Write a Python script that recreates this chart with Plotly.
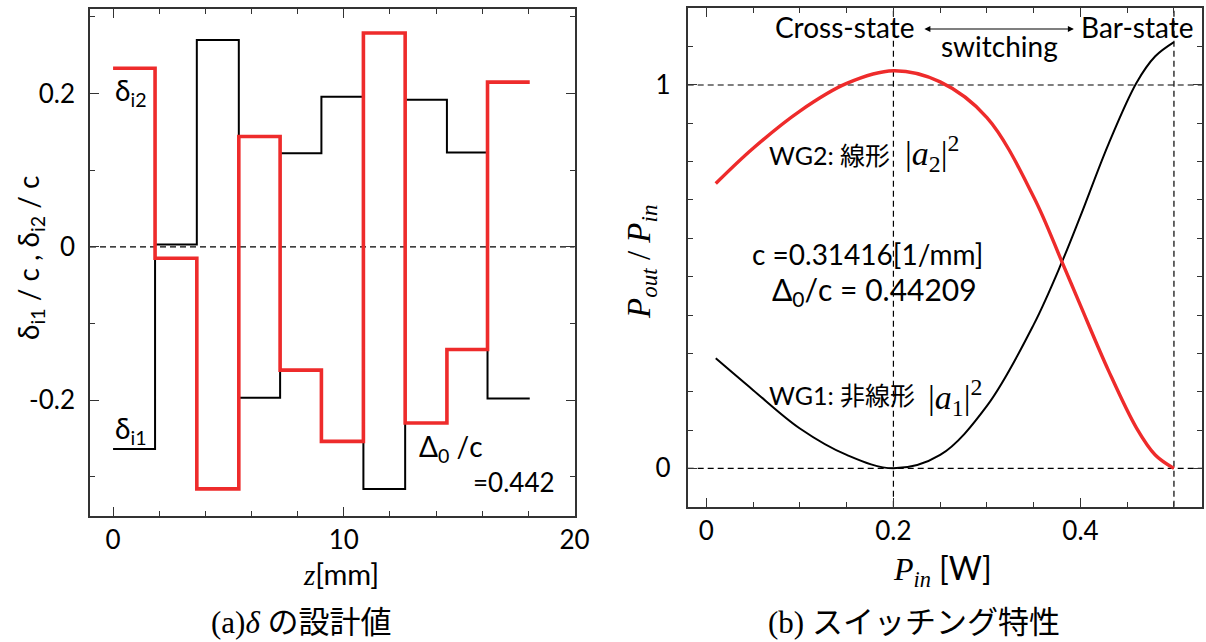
import plotly.graph_objects as go

# ---------------- data ----------------
# (a) design values of delta (step profile)
z_edges = [0.0, 1.82, 3.63, 5.45, 7.24, 9.03, 10.85, 12.66, 14.47, 16.23, 18.06]
delta_i1 = [-0.264, 0.003, 0.270, -0.197, 0.122, 0.196, -0.316, 0.192, 0.123, -0.198]
delta_i2 = [0.233, -0.015, -0.316, 0.144, -0.161, -0.254, 0.279, -0.230, -0.134, 0.215]

# (b) switching characteristic
p_in = [0.01, 0.05, 0.10, 0.15, 0.20, 0.25, 0.30, 0.35, 0.38, 0.40, 0.43, 0.46, 0.48, 0.50]
wg2_linear = [0.743, 0.835, 0.932, 1.004, 1.037, 1.008, 0.915, 0.708, 0.540, 0.425, 0.255, 0.105, 0.035, 0.0]
wg1_nonlinear = [0.287, 0.204, 0.104, 0.035, 0.0, 0.035, 0.163, 0.375, 0.537, 0.658, 0.846, 1.006, 1.075, 1.112]

xticks_a = [0, 10, 20]
yticks_a = [-0.2, 0, 0.2]
yticklabels_a = ["-0.2", "0", "0.2"]
xticks_b = [0, 0.2, 0.4]
xticklabels_b = ["0", "0.2", "0.4"]
yticks_b = [0, 1]
yticklabels_b = ["0", "1"]

# ---------------- style ----------------
W, H = 1206, 642
SANS = "Lato, 'Noto Sans CJK JP', sans-serif"
SERIF = "'Liberation Serif', 'Noto Sans CJK JP', serif"
RED = "#ee2b2b"
AX = "#333333"


def px(x):
    return x / W


def py(y):
    return 1 - y / H


fig = go.Figure()

# step profiles (hv steps)
fig.add_trace(go.Scatter(x=z_edges, y=delta_i1 + [delta_i1[-1]], mode="lines",
                         line=dict(shape="hv", color="black", width=2),
                         xaxis="x", yaxis="y", showlegend=False))
fig.add_trace(go.Scatter(x=z_edges, y=delta_i2 + [delta_i2[-1]], mode="lines",
                         line=dict(shape="hv", color=RED, width=3.6),
                         xaxis="x", yaxis="y", showlegend=False))

# switching curves
fig.add_trace(go.Scatter(x=p_in, y=wg1_nonlinear, mode="lines",
                         line=dict(shape="spline", smoothing=1.0, color="black", width=2),
                         xaxis="x2", yaxis="y2", showlegend=False))
fig.add_trace(go.Scatter(x=p_in, y=wg2_linear, mode="lines",
                         line=dict(shape="spline", smoothing=1.0, color=RED, width=3.4),
                         xaxis="x2", yaxis="y2", showlegend=False))

common = dict(showline=True, linecolor=AX, linewidth=1.6, mirror="allticks",
              ticks="inside", ticklen=9, tickwidth=1.4, tickcolor=AX,
              showgrid=False, zeroline=False, automargin=False,
              tickfont=dict(family=SANS, size=26, color="black"))


def minor(d):
    return dict(ticks="inside", ticklen=5, tickwidth=1.2, tickcolor=AX, dtick=d, showgrid=False)


fig.update_layout(
    width=W, height=H,
    margin=dict(l=0, r=0, t=0, b=0),
    paper_bgcolor="white", plot_bgcolor="white",
    xaxis=dict(domain=[px(90), px(574.5)], range=[-1, 20], anchor="y",
               tickvals=xticks_a, ticktext=[str(v) for v in xticks_a],
               minor=minor(2), ticklabelstandoff=0, **common),
    yaxis=dict(domain=[py(515.7), py(9.3)], range=[-0.351, 0.31], anchor="x",
               tickvals=yticks_a, ticktext=yticklabels_a,
               minor=minor(0.1), ticklabelstandoff=8, **common),
    xaxis2=dict(domain=[px(687.7), px(1202)], range=[-0.02, 0.53], anchor="y2",
                tickvals=xticks_b, ticktext=xticklabels_b,
                minor=minor(0.05), ticklabelstandoff=0, **common),
    yaxis2=dict(domain=[py(506.7), py(8.3)], range=[-0.1, 1.2], anchor="x2",
                tickvals=yticks_b, ticktext=yticklabels_b,
                minor=minor(0.1), ticklabelstandoff=10, **common),
)

dash = dict(color="black", width=1.2, dash="6px,4px")
shapes = [
    dict(type="line", xref="x domain", yref="y", x0=0, x1=1, y0=0, y1=0, line=dash, layer="below"),
    dict(type="line", xref="x2 domain", yref="y2", x0=0, x1=1, y0=0, y1=0, line=dash, layer="below"),
    dict(type="line", xref="x2 domain", yref="y2", x0=0, x1=1, y0=1, y1=1, line=dash, layer="below"),
    dict(type="line", xref="x2", yref="y2 domain", x0=0.2, x1=0.2, y0=0, y1=1, line=dash, layer="below"),
    dict(type="line", xref="x2", yref="y2 domain", x0=0.5, x1=0.5, y0=0, y1=1, line=dash, layer="below"),
]
fig.update_layout(shapes=shapes)

ann = []


def A(text, x, y, xref="paper", yref="paper", size=26, family=SANS, xanchor="center",
      yanchor="middle", angle=0):
    ann.append(dict(text=text, x=x, y=y, xref=xref, yref=yref, showarrow=False,
                    font=dict(family=family, size=size, color="black"),
                    xanchor=xanchor, yanchor=yanchor, textangle=angle))


# (a) annotations
A("δ<sub>i2</sub>", 0.0, 0.2017, "x", "y", size=28, xanchor="left")
A("δ<sub>i1</sub>", 0.0, -0.239, "x", "y", size=28, xanchor="left")
A("Δ<sub>0</sub> /c", 13.19, -0.262, "x", "y", size=28, xanchor="left")
A("=0.442", 19.26, -0.307, "x", "y", size=26, xanchor="right")

# (b) annotations
A("Cross-state", 0.2239, 1.151, "x2", "y2", size=28, xanchor="right")
A("Bar-state", 0.3983, 1.151, "x2", "y2", size=28, xanchor="left")
A("switching", 0.3137, 1.102, "x2", "y2", size=28)
A("WG2: 線形", 0.0653, 0.817, "x2", "y2", size=25, xanchor="left")
A("|<i>a</i><sub>2</sub>|<sup>2</sup>", 0.210, 0.822, "x2", "y2", size=34, family=SERIF, xanchor="left")
A("c =0.31416[1/mm]", 0.1725, 0.559, "x2", "y2", size=28)
A("Δ<sub>0</sub>/c = 0.44209", 0.18, 0.462, "x2", "y2", size=30)
A("WG1: 非線形", 0.0653, 0.191, "x2", "y2", size=25, xanchor="left")
A("|<i>a</i><sub>1</sub>|<sup>2</sup>", 0.235, 0.185, "x2", "y2", size=34, family=SERIF, xanchor="left")

# arrow between the states
ann.append(dict(x=0.393, y=1.146, xref="x2", yref="y2", ax=-151, ay=0, axref="pixel", ayref="pixel",
                text="", showarrow=True, arrowhead=2, arrowside="end+start", arrowsize=1,
                arrowwidth=1.2, arrowcolor="black"))

# axis titles
A("δ<sub>i1</sub> / c , δ<sub>i2</sub> / c", px(30), py(258), size=28, angle=-90)
A("<i>z</i><span style='font-family:Lato'>[mm]</span>", px(341), py(573), size=29, family=SERIF)
A("<i>P<sub>out</sub></i> / <i>P<sub>in</sub></i>", px(642), py(262), size=33, family=SERIF, angle=-90)
A("<i>P<sub>in</sub></i> <span style='font-family:Lato'>[W]</span>", px(942), py(570), size=32, family=SERIF)

# captions
A("(a)<i>δ</i> の設計値", px(301), py(622), size=31, family=SERIF)
A("(b) スイッチング特性", px(914), py(622), size=31, family=SERIF)

fig.update_layout(annotations=ann)

fig.write_html("out.html", config={"displayModeBar": False},
               post_script="document.body.style.margin='0px';document.body.style.overflow='hidden';")
